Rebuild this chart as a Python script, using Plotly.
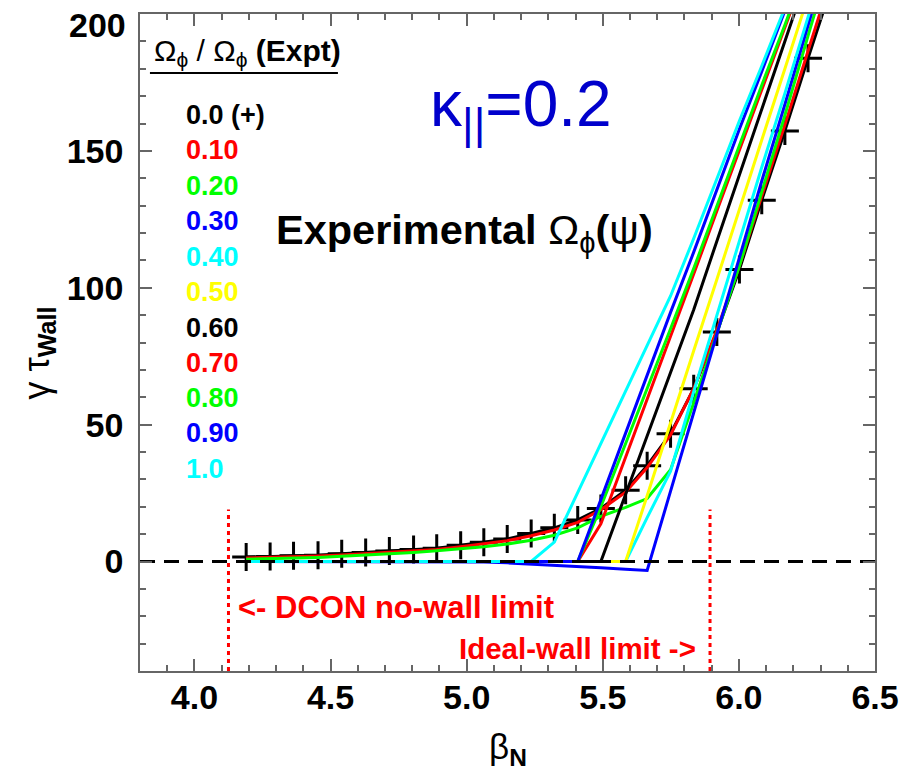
import plotly.graph_objects as go

# ---------------- data ----------------
beta = [4.190, 4.278, 4.364, 4.454, 4.541, 4.629, 4.716, 4.805, 4.890, 4.978,
        5.063, 5.149, 5.237, 5.322, 5.408, 5.493, 5.584, 5.663, 5.749, 5.834,
        5.919, 6.002, 6.084, 6.169, 6.254, 6.340]

g_00 = [1.6, 1.8, 2.1, 2.3, 2.8, 3.3, 3.8, 4.4, 4.8, 5.9, 7.0, 8.2, 10.2, 12.3,
        15.2, 19.4, 26.0, 35.0, 46.7, 63.1, 83.8, 106.7, 132.0, 157.3, 183.8, 210.0]
g_01 = [1.3, 1.5, 1.8, 2.0, 2.4, 2.9, 3.4, 4.0, 4.4, 5.4, 6.4, 7.6, 9.4, 11.5,
        14.3, 18.9, 25.3, 34.3, 46.2, 63.2, 84.5, 108.0, 133.5, 159.5, 186.5, 213.5]
g_02 = [0.8, 1.0, 1.2, 1.5, 1.9, 2.3, 2.8, 3.3, 3.9, 4.6, 5.4, 6.4, 7.8, 9.6,
        12.3, 16.5, 19.8, 23.0, 33.5, 58.0, 83.0, 108.0, 135.0, 163.0, 192.0, 221.0]
g_03 = [0, 0, 0, 0, 0, 0, 0, 0, 0, 0, -0.2, -0.5, -0.9, -1.3,
        -1.8, -2.3, -2.8, -3.3, 25.7, 54.0, 83.0, 111.0, 139.0, 167.0, 196.0, 225.0]
g_04 = [0, 0, 0, 0, 0, 0, 0, 0, 0, 0, 0, 0, 0, 0,
        0, 0, 0, 16.0, 33.0, 62.0, 90.0, 117.0, 144.0, 171.0, 199.0, 227.0]
g_05 = [0, 0, 0, 0, 0, 0, 0, 0, 0, 0, 0, 0, 0, 0,
        0, 0, 0, 24.0, 51.0, 77.0, 103.0, 129.0, 154.0, 180.0, 207.0, 233.0]
g_06 = [0, 0, 0, 0, 0, 0, 0, 0, 0, 0, 0, 0, 0, 0,
        0, 0, 24.6, 46.0, 69.0, 92.0, 117.0, 141.0, 165.0, 190.0, 215.0, 240.0]
g_07 = [0, 0, 0, 0, 0, 0, 0, 0, 0, 0, 0, 0, 0, 0,
        0, 13.8, 38.0, 59.5, 82.5, 105.0, 128.0, 150.0, 172.0, 195.0, 218.0, 241.0]
g_08 = [0, 0, 0, 0, 0, 0, 0, 0, 0, 0, 0, 0, 0, 0,
        0, 20.0, 43.0, 63.0, 85.0, 107.0, 130.0, 152.0, 174.0, 196.0, 219.0, 242.0]
g_09 = [0, 0, 0, 0, 0, 0, 0, 0, 0, 0, 0, 0, 0, 0,
        0, 22.6, 47.0, 68.0, 91.0, 113.0, 136.0, 158.0, 179.0, 201.0, 223.0, 246.0]
g_10 = [0, 0, 0, 0, 0, 0, 0, 0, 0, 0, 0, 0, 0, 7.1,
        25.2, 43.0, 62.0, 79.0, 97.0, 118.0, 140.0, 161.0, 181.0, 202.0, 224.0, 245.0]

series = [g_00, g_01, g_02, g_03, g_04, g_05, g_06, g_07, g_08, g_09, g_10]
labels = ["0.0 (+)", "0.10", "0.20", "0.30", "0.40", "0.50",
          "0.60", "0.70", "0.80", "0.90", "1.0"]
colors = ["#000000", "#FF0000", "#00FF00", "#0000FF", "#00FFFF", "#FFFF00",
          "#000000", "#FF0000", "#00FF00", "#0000FF", "#00FFFF"]

nowall_limit = 4.125
idealwall_limit = 5.894
x_ticks = [4.0, 4.5, 5.0, 5.5, 6.0, 6.5]
x_ticktext = ["4.0", "4.5", "5.0", "5.5", "6.0", "6.5"]
y_ticks = [0, 50, 100, 150, 200]
y_ticktext = ["0", "50", "100", "150", ""]
y_top_label = "200"

# ---------------- figure ----------------
W, H = 911, 773
L, R, T, B = 140, 32, 14, 102
PW, PH = W - L - R, H - T - B
FONT = "Liberation Sans, Arial, Helvetica, sans-serif"


def px(xp):
    return (xp - L) / PW


def py(yp):
    return (H - B - yp) / PH


fig = go.Figure()

for i, (vals, col) in enumerate(zip(series, colors)):
    if i == 0:
        fig.add_trace(go.Scatter(
            x=beta, y=vals, mode="lines+markers",
            line=dict(color=col, width=3),
            marker=dict(symbol="cross-thin", size=20,
                        line=dict(color=col, width=3), color=col),
            hoverinfo="skip"))
    else:
        fig.add_trace(go.Scatter(
            x=beta, y=vals, mode="lines",
            line=dict(color=col, width=3), hoverinfo="skip"))

# zero line (dashed) drawn above curves
fig.add_trace(go.Scatter(x=[3.8, 6.5], y=[0, 0], mode="lines",
                         line=dict(color="black", width=3, dash="15px,9px"),
                         hoverinfo="skip"))
# limit lines (dotted red)
for xv in (nowall_limit, idealwall_limit):
    fig.add_trace(go.Scatter(x=[xv, xv], y=[-40, 19], mode="lines",
                             line=dict(color="#FF0000", width=3, dash="4px,4px"),
                             hoverinfo="skip"))

axis_common = dict(
    showline=True, linecolor="#666666", linewidth=1.5, mirror="ticks",
    ticks="inside", ticklen=12, tickwidth=1.5, tickcolor="#666666",
    showgrid=False, zeroline=False,
    tickfont=dict(family=FONT, size=34, color="black", weight="bold"),
)

fig.update_layout(
    width=W, height=H,
    margin=dict(l=L, r=R, t=T, b=B),
    paper_bgcolor="white", plot_bgcolor="white",
    showlegend=False,
    xaxis=dict(range=[3.8, 6.5], tickvals=x_ticks, ticktext=x_ticktext,
               minor=dict(tick0=3.8, dtick=0.1, ticks="inside", ticklen=6,
                          tickwidth=1.5, tickcolor="#666666", showgrid=False),
               ticklabelstandoff=-5, **axis_common),
    yaxis=dict(range=[-40, 200], tickvals=y_ticks, ticktext=y_ticktext,
               minor=dict(tick0=0, dtick=10, ticks="inside", ticklen=6,
                          tickwidth=1.5, tickcolor="#666666", showgrid=False),
               ticklabelstandoff=8, **axis_common),
)

ann = []
# top y tick label (sits just below the frame corner)
ann.append(dict(x=px(128), y=py(25), xref="paper", yref="paper",
                xanchor="right", yanchor="middle", showarrow=False,
                text="<b>%s</b>" % y_top_label,
                font=dict(family=FONT, size=34, color="black")))
# legend header
ann.append(dict(x=px(152), y=py(52), xref="paper", yref="paper",
                xanchor="left", yanchor="middle", showarrow=False,
                text="Ω<sub>ϕ</sub> / Ω<sub>ϕ</sub> <b>(Expt)</b>",
                font=dict(family=FONT, size=30, color="black")))
fig.add_shape(type="line", xref="paper", yref="paper",
              x0=px(150), x1=px(339), y0=py(73), y1=py(73),
              line=dict(color="black", width=2))

legend_y = [115, 150, 186, 221, 257, 292, 328, 363, 398, 433, 469]
for lab, col, yy in zip(labels, colors, legend_y):
    ann.append(dict(x=px(184), y=py(yy), xref="paper", yref="paper",
                    xanchor="left", yanchor="middle", showarrow=False,
                    text="<b>%s</b>" % lab,
                    font=dict(family=FONT, size=27, color=col)))

ann.append(dict(x=px(430), y=py(108), xref="paper", yref="paper",
                xanchor="left", yanchor="middle", showarrow=False,
                text="κ<sub>||</sub>=0.2",
                font=dict(family=FONT, size=64, color="#0000CC")))
ann.append(dict(x=px(275), y=py(232), xref="paper", yref="paper",
                xanchor="left", yanchor="middle", showarrow=False,
                text="<b>Experimental</b> Ω<sub>ϕ</sub><b>(</b>ψ<b>)</b>",
                font=dict(family=FONT, size=41.5, color="black")))
ann.append(dict(x=px(237), y=py(607), xref="paper", yref="paper",
                xanchor="left", yanchor="middle", showarrow=False,
                text="<b><- DCON no-wall limit</b>",
                font=dict(family=FONT, size=31, color="#FF0000")))
ann.append(dict(x=px(701), y=py(648), xref="paper", yref="paper",
                xanchor="right", yanchor="middle", showarrow=False,
                text="<b>Ideal-wall limit -></b>",
                font=dict(family=FONT, size=29.5, color="#FF0000")))
# axis titles
ann.append(dict(x=px(510), y=py(749), xref="paper", yref="paper",
                xanchor="center", yanchor="middle", showarrow=False,
                text="β<sub><b>N</b></sub>",
                font=dict(family=FONT, size=35, color="black")))
ann.append(dict(x=px(38), y=py(353), xref="paper", yref="paper",
                xanchor="center", yanchor="middle", showarrow=False,
                textangle=-90,
                text="γ τ<sub><b>Wall</b></sub>",
                font=dict(family=FONT, size=36, color="black")))

fig.update_layout(annotations=ann)
fig.write_html("out.html")
